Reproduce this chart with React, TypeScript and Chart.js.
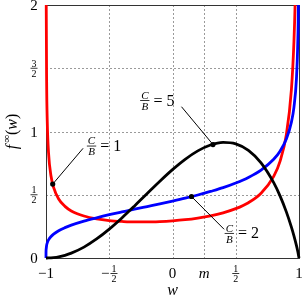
import React, { useEffect, useRef } from "react";
import { Chart, registerables } from "chart.js";
Chart.register(...registerables);

// ---- data ----
const wRed = [-0.999, -0.998, -0.995, -0.99, -0.98, -0.96, -0.94, -0.9, -0.85, -0.8, -0.7, -0.6, -0.5, -0.4, -0.3, -0.2, -0.1, 0, 0.1, 0.2, 0.3, 0.4, 0.5, 0.6, 0.7, 0.8, 0.85, 0.9, 0.94, 0.96, 0.97, 0.98, 0.99];
const redValues = [2.544, 1.962, 1.393, 1.076, 0.832, 0.646, 0.558, 0.467, 0.408, 0.372, 0.332, 0.309, 0.296, 0.289, 0.285, 0.285, 0.288, 0.294, 0.303, 0.316, 0.333, 0.357, 0.39, 0.437, 0.512, 0.645, 0.764, 0.975, 1.331, 1.709, 2.041, 2.625, 4.04];

const wBlue = [-1, -0.9999, -0.999, -0.995, -0.99, -0.98, -0.96, -0.94, -0.9, -0.85, -0.8, -0.7, -0.6, -0.5, -0.4, -0.3, -0.2, -0.1, 0, 0.1, 0.2, 0.3, 0.4, 0.5, 0.6, 0.7, 0.8, 0.85, 0.9, 0.94, 0.96, 0.98, 0.99, 0.995, 0.999];
const blueValues = [0, 0.038, 0.067, 0.101, 0.12, 0.143, 0.17, 0.189, 0.216, 0.24, 0.26, 0.292, 0.318, 0.342, 0.364, 0.386, 0.407, 0.428, 0.45, 0.473, 0.498, 0.526, 0.556, 0.593, 0.637, 0.695, 0.78, 0.844, 0.94, 1.074, 1.191, 1.42, 1.691, 2.012, 3.01];

const wBlack = [-1, -0.98, -0.96, -0.94, -0.9, -0.85, -0.8, -0.7, -0.6, -0.5, -0.4, -0.3, -0.2, -0.1, 0, 0.1, 0.2, 0.3, 0.4, 0.5, 0.6, 0.7, 0.8, 0.85, 0.9, 0.94, 0.96, 0.98, 0.99, 1];
const blackValues = [0, 0.0003, 0.0014, 0.0032, 0.0092, 0.0212, 0.0382, 0.0861, 0.1505, 0.2285, 0.3168, 0.412, 0.5102, 0.6072, 0.6988, 0.7803, 0.8469, 0.8932, 0.9137, 0.9019, 0.851, 0.7525, 0.596, 0.4911, 0.3645, 0.2437, 0.1746, 0.0973, 0.0536, 0];

const xTicks = [-1, -0.5, 0, 0.25, 0.5, 1];
const xTickLabels = ["−1", "−1/2", "0", "m", "1/2", "1"];
const yTicks = [0, 0.5, 1, 1.5, 2];
const yTickLabels = ["0", "1/2", "1", "3/2", "2"];

// annotations: ratio C/B, dot on curve, end of leader line, label (fraction centre / bar)
const annoRatio = ["1", "5", "2"];
const annoDotW = [-0.947, 0.32, 0.15];
const annoDotV = [0.584, 0.897, 0.486];
const annoEndW = [-0.707, 0.071, 0.408];
const annoEndV = [0.867, 1.196, 0.227];
const annoLabelW = [-0.64, -0.219, 0.449];
const annoLabelV = [0.885, 1.245, 0.194];

const FONT = '"Liberation Serif", "Times New Roman", serif';

function drawFraction(ctx: CanvasRenderingContext2D, cx: number, barY: number, num: string, den: string, size: number, italic: boolean) {
  ctx.font = `${italic ? "italic " : ""}${size}px ${FONT}`;
  const w = Math.max(ctx.measureText(num).width, ctx.measureText(den).width) + 2;
  ctx.textAlign = "center";
  ctx.textBaseline = "alphabetic";
  ctx.fillText(num, cx, barY - 1.6);
  ctx.fillText(den, cx, barY + 1.6 + size * 0.68);
  ctx.beginPath();
  ctx.lineWidth = 0.8;
  ctx.moveTo(cx - w / 2, barY);
  ctx.lineTo(cx + w / 2, barY);
  ctx.stroke();
  return w;
}

function drawTickLabel(ctx: CanvasRenderingContext2D, label: string, cx: number, barY: number, baseline: number) {
  ctx.fillStyle = "#000";
  ctx.strokeStyle = "#000";
  if (label.includes("/")) {
    let neg = false;
    let s = label;
    if (s.startsWith("−")) {
      neg = true;
      s = s.slice(1);
    }
    const [n, d] = s.split("/");
    ctx.font = `10px ${FONT}`;
    const fw = Math.max(ctx.measureText(n).width, ctx.measureText(d).width) + 2;
    if (neg) {
      ctx.font = `15px ${FONT}`;
      const mw = ctx.measureText("−").width;
      const total = mw + 1 + fw;
      const left = cx - total / 2;
      ctx.textAlign = "left";
      ctx.textBaseline = "alphabetic";
      ctx.fillText("−", left, barY + 4.5);
      drawFraction(ctx, left + mw + 1 + fw / 2, barY, n, d, 10, false);
    } else {
      drawFraction(ctx, cx, barY, n, d, 10, false);
    }
  } else {
    ctx.font = `${label === "m" ? "italic " : ""}15px ${FONT}`;
    ctx.textAlign = "center";
    ctx.textBaseline = "alphabetic";
    ctx.fillText(label, cx, baseline);
  }
}

const decorPlugin = {
  id: "decor",
  beforeDatasetsDraw(chart: any) {
    const ctx: CanvasRenderingContext2D = chart.ctx;
    const { left, right, top, bottom } = chart.chartArea;
    const xs = chart.scales.x;
    const ys = chart.scales.y;
    ctx.save();
    ctx.strokeStyle = "#9a9a9a";
    ctx.lineWidth = 1;
    ctx.setLineDash([2, 2]);
    xTicks.forEach((t) => {
      if (t <= xs.min || t >= xs.max) return;
      const px = Math.round(xs.getPixelForValue(t)) + 0.5;
      ctx.beginPath();
      ctx.moveTo(px, top);
      ctx.lineTo(px, bottom);
      ctx.stroke();
    });
    yTicks.forEach((t) => {
      if (t <= ys.min || t >= ys.max) return;
      const py = Math.round(ys.getPixelForValue(t)) + 0.5;
      ctx.beginPath();
      ctx.moveTo(left, py);
      ctx.lineTo(right, py);
      ctx.stroke();
    });
    ctx.setLineDash([]);
    ctx.strokeStyle = "#333";
    ctx.lineWidth = 1;
    ctx.strokeRect(Math.round(left) + 0.5, Math.round(top) + 0.5, Math.round(right - left), Math.round(bottom - top));
    ctx.restore();
  },
  afterDatasetsDraw(chart: any) {
    const ctx: CanvasRenderingContext2D = chart.ctx;
    const xs = chart.scales.x;
    const ys = chart.scales.y;
    const { bottom, top } = chart.chartArea;
    ctx.save();
    // tick labels
    xTicks.forEach((t, i) => {
      const px = xs.getPixelForValue(t);
      drawTickLabel(ctx, xTickLabels[i], px, bottom + 15.5, bottom + 20);
    });
    yTicks.forEach((t, i) => {
      const py = ys.getPixelForValue(t);
      drawTickLabel(ctx, yTickLabels[i], 34, py, py + 5);
    });
    // x title
    ctx.fillStyle = "#000";
    ctx.font = `italic 16px ${FONT}`;
    ctx.textAlign = "center";
    ctx.textBaseline = "alphabetic";
    ctx.fillText("w", xs.getPixelForValue(0), 295);
    // y title (rotated)
    ctx.save();
    const cy = (top + bottom) / 2;
    ctx.translate(17, cy);
    ctx.rotate(-Math.PI / 2);
    const parts: [string, string, number][] = [
      ["f", `italic 16px ${FONT}`, 0],
      ["∞", `11px ${FONT}`, -7],
      ["(", `16px ${FONT}`, 0],
      ["w", `italic 16px ${FONT}`, 0],
      [")", `16px ${FONT}`, 0],
    ];
    let total = 0;
    const widths = parts.map(([s, f]) => {
      ctx.font = f;
      const w = ctx.measureText(s).width + (s === "f" ? 2 : 0);
      total += w;
      return w;
    });
    let x = -total / 2;
    ctx.textAlign = "left";
    parts.forEach(([s, f, dy], i) => {
      ctx.font = f;
      ctx.fillText(s, x, dy);
      x += widths[i];
    });
    ctx.restore();
    // annotations
    ctx.strokeStyle = "#000";
    ctx.fillStyle = "#000";
    annoRatio.forEach((r, i) => {
      const dx = xs.getPixelForValue(annoDotW[i]);
      const dy = ys.getPixelForValue(annoDotV[i]);
      const ex = xs.getPixelForValue(annoEndW[i]);
      const ey = ys.getPixelForValue(annoEndV[i]);
      ctx.beginPath();
      ctx.lineWidth = 1;
      ctx.moveTo(dx, dy);
      ctx.lineTo(ex, ey);
      ctx.stroke();
      ctx.beginPath();
      ctx.arc(dx, dy, 2.6, 0, Math.PI * 2);
      ctx.fill();
      const lx = xs.getPixelForValue(annoLabelW[i]);
      const ly = ys.getPixelForValue(annoLabelV[i]);
      const fw = drawFraction(ctx, lx, ly, "C", "B", 11, true);
      ctx.font = `16px ${FONT}`;
      ctx.textAlign = "left";
      ctx.textBaseline = "alphabetic";
      ctx.fillText("= " + r, lx + fw / 2 + 4, ly + 5);
    });
    ctx.restore();
  },
};

export default function App() {
  const ref = useRef<HTMLCanvasElement | null>(null);
  useEffect(() => {
    if (!ref.current) return;
    const mk = (ws: number[], vs: number[]) => ws.map((x, i) => ({ x, y: vs[i] }));
    const common = {
      showLine: true,
      pointRadius: 0,
      borderWidth: 2.8,
      cubicInterpolationMode: "monotone" as const,
      clip: { left: 2, right: 2, top: 0, bottom: 2 },
      fill: false,
    };
    const chart = new Chart(ref.current, {
      type: "scatter",
      data: {
        datasets: [
          { ...common, label: "C/B = 5", data: mk(wBlack, blackValues), borderColor: "#000000" },
          { ...common, label: "C/B = 2", data: mk(wBlue, blueValues), borderColor: "#0000ff" },
          { ...common, label: "C/B = 1", data: mk(wRed, redValues), borderColor: "#ff0000" },
        ],
      },
      options: {
        responsive: false,
        animation: false,
        devicePixelRatio: 1,
        events: [],
        layout: { padding: { left: 46, top: 5, right: 3, bottom: 39 } },
        scales: {
          x: { type: "linear", min: -1, max: 1, display: false },
          y: { type: "linear", min: 0, max: 2, display: false },
        },
        plugins: { legend: { display: false }, tooltip: { enabled: false } },
      },
      plugins: [decorPlugin],
    });
    return () => chart.destroy();
  }, []);
  return (
    <canvas
      ref={ref}
      width={302}
      height={297}
      style={{ position: "fixed", left: 0, top: 0, width: 302, height: 297, background: "#fff" }}
    />
  );
}
